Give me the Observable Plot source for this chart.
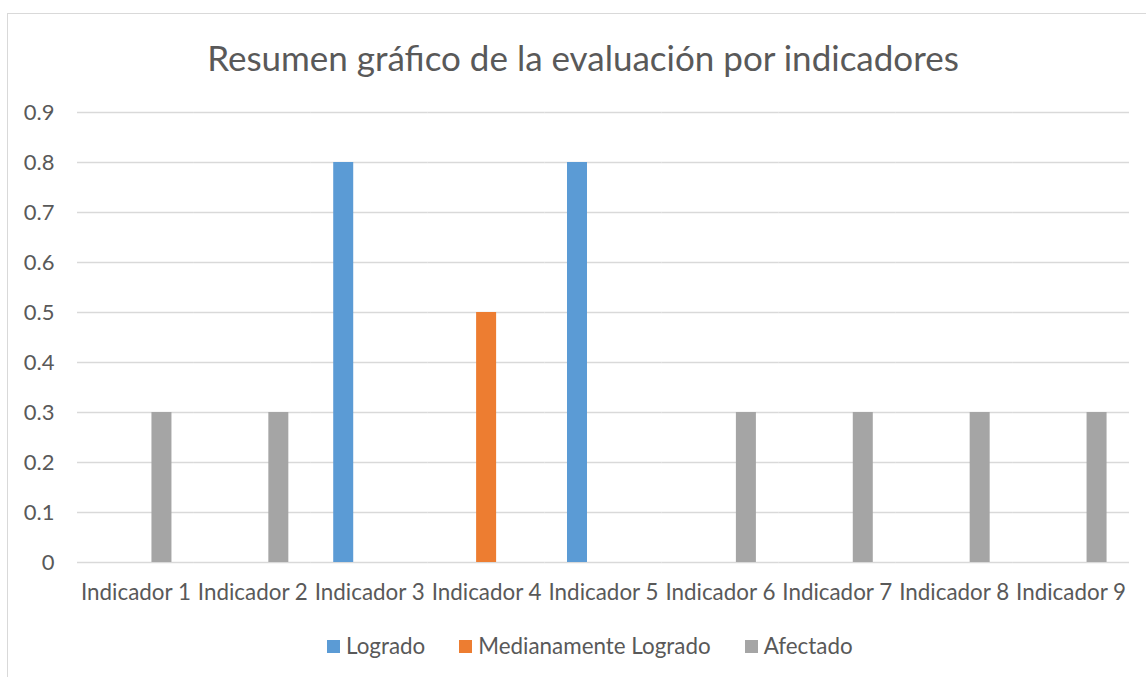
<!DOCTYPE html>
<html>
<head>
<meta charset="utf-8">
<script src="https://cdn.jsdelivr.net/npm/d3@7"></script>
<script src="https://cdn.jsdelivr.net/npm/@observablehq/plot@0.6"></script>
<style>
  html, body { margin: 0; padding: 0; background: #fff; overflow: hidden; }
  body { width: 1146px; height: 677px; position: relative; font-family: Lato, "Open Sans", sans-serif; color: #595959; }
  #frame { position: absolute; left: 7px; top: 13px; width: 1300px; height: 800px; border: 1px solid #d9d9d9; box-sizing: border-box; }
  #title { position: absolute; left: 0; top: 40px; width: 1166px; text-align: center; font-size: 35px; line-height: 35px; color: #595959; }
  #chart { position: absolute; left: 0; top: 95px; }
  #legend { position: absolute; left: 327px; top: 633px; display: flex; align-items: center; font-size: 22.4px; line-height: 26px; color: #595959; }
  #legend .item { display: flex; align-items: center; margin-right: 34px; }
  #legend .sw { width: 13px; height: 13px; margin-right: 6px; }
</style>
</head>
<body>
<div id="frame"></div>
<div id="title">Resumen gráfico de la evaluación por indicadores</div>
<div id="chart"></div>
<div id="legend"></div>
<script>
const indicators = ["Indicador 1", "Indicador 2", "Indicador 3", "Indicador 4", "Indicador 5", "Indicador 6", "Indicador 7", "Indicador 8", "Indicador 9"];
const series = ["Logrado", "Medianamente Logrado", "Afectado"];
const colors = ["#5B9BD5", "#ED7D31", "#A5A5A5"];
const logrado = [0, 0, 0.8, 0, 0.8, 0, 0, 0, 0];
const medianamente = [0, 0, 0, 0.5, 0, 0, 0, 0, 0];
const afectado = [0.3, 0.3, 0, 0, 0, 0.3, 0.3, 0.3, 0.3];
const yTicks = [0, 0.1, 0.2, 0.3, 0.4, 0.5, 0.6, 0.7, 0.8, 0.9];

const valuesBySeries = [logrado, medianamente, afectado];
const rows = [];
indicators.forEach((ind, i) => {
  series.forEach((s, j) => {
    const v = valuesBySeries[j][i];
    if (v > 0) rows.push({indicator: ind, serie: s, value: v});
  });
});

const chart = Plot.plot({
  width: 1146,
  height: 525,
  marginLeft: 77,
  marginRight: 17,
  marginTop: 17,
  marginBottom: 58,
  style: {fontFamily: "Lato, 'Open Sans', sans-serif", color: "#595959", background: "transparent"},
  fx: {domain: indicators, padding: 0, round: false, label: null},
  x: {domain: series, paddingInner: 0.2308, paddingOuter: 0.863, round: false, axis: null},
  y: {domain: [0, 0.9], label: null},
  color: {domain: series, range: colors},
  marks: [
    Plot.ruleY(yTicks, {stroke: "#d9d9d9", strokeWidth: 1.3}),
    Plot.barY(rows, {fx: "indicator", x: "serie", y: "value", fill: "serie"}),
    Plot.axisY(yTicks, {tickSize: 0, tickPadding: 23, fontSize: 22, fill: "#595959", label: null,
      tickFormat: d => String(+d.toFixed(1))}),
    Plot.axisFx({anchor: "bottom", tickSize: 0, tickPadding: 22, fontSize: 22.4, fill: "#595959", label: null})
  ]
});
document.getElementById("chart").appendChild(chart);

const legend = document.getElementById("legend");
series.forEach((s, j) => {
  const item = document.createElement("div");
  item.className = "item";
  const sw = document.createElement("div");
  sw.className = "sw";
  sw.style.background = colors[j];
  const t = document.createElement("span");
  t.textContent = s;
  item.appendChild(sw);
  item.appendChild(t);
  legend.appendChild(item);
});
</script>
</body>
</html>
